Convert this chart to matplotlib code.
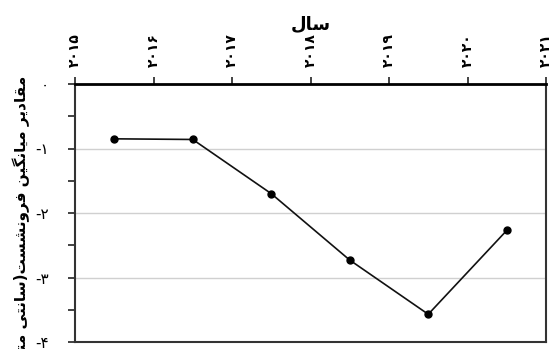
import matplotlib
matplotlib.use("Agg")
import matplotlib.pyplot as plt
from matplotlib.ticker import MultipleLocator

# ---- data ----
years = [2015.5, 2016.5, 2017.5, 2018.5, 2019.5, 2020.5]
subsidence = [-0.85, -0.86, -1.70, -2.73, -3.57, -2.27]
x_ticks = [2015, 2016, 2017, 2018, 2019, 2020, 2021]
y_ticks = [0, -1, -2, -3, -4]
x_title = "سال"
y_title = "مقادیر میانگین فرونشست(سانتی متر"

# ---- minimal Arabic/Persian shaping (presentation forms, visual order) ----
FORMS = {  # isolated, final, initial, medial
    "ا": ("\uFE8D", "\uFE8E", None, None),
    "د": ("\uFEA9", "\uFEAA", None, None),
    "ر": ("\uFEAD", "\uFEAE", None, None),
    "و": ("\uFEED", "\uFEEE", None, None),
    "ت": ("\uFE95", "\uFE96", "\uFE97", "\uFE98"),
    "س": ("\uFEB1", "\uFEB2", "\uFEB3", "\uFEB4"),
    "ش": ("\uFEB5", "\uFEB6", "\uFEB7", "\uFEB8"),
    "ف": ("\uFED1", "\uFED2", "\uFED3", "\uFED4"),
    "ق": ("\uFED5", "\uFED6", "\uFED7", "\uFED8"),
    "ل": ("\uFEDD", "\uFEDE", "\uFEDF", "\uFEE0"),
    "م": ("\uFEE1", "\uFEE2", "\uFEE3", "\uFEE4"),
    "ن": ("\uFEE5", "\uFEE6", "\uFEE7", "\uFEE8"),
    "ی": ("\uFBFC", "\uFBFD", "\uFBFE", "\uFBFF"),
    "گ": ("\uFB92", "\uFB93", "\uFB94", "\uFB95"),
}
MIRROR = {"(": ")", ")": "("}


def shape(text):
    out = []
    n = len(text)
    for i, ch in enumerate(text):
        if ch not in FORMS:
            out.append(MIRROR.get(ch, ch))
            continue
        iso, fin, ini, med = FORMS[ch]
        prev = text[i - 1] if i > 0 else ""
        nxt = text[i + 1] if i < n - 1 else ""
        cp = prev in FORMS and FORMS[prev][2] is not None
        cn = ini is not None and nxt in FORMS
        if cp and cn:
            out.append(med)
        elif cp:
            out.append(fin)
        elif cn:
            out.append(ini)
        else:
            out.append(iso)
    return "".join(reversed(out))


PERSIAN_DIGITS = str.maketrans("0123456789", "۰۱۲۳۴۵۶۷۸۹")


def fa_num(v):
    return str(int(v)).translate(PERSIAN_DIGITS)


plt.rcParams["font.family"] = ["DejaVu Sans"]

fig = plt.figure(figsize=(5.5, 3.49), dpi=100)
ax = fig.add_axes([75 / 550, 1 - 342 / 349, (546 - 75) / 550, (342 - 84) / 349])

ax.plot(years, subsidence, color="#111111", lw=1.2, marker="o", ms=5,
        markerfacecolor="black", markeredgecolor="black", zorder=3)

ax.set_xlim(2015, 2021)
ax.set_ylim(-4, 0)

ax.xaxis.tick_top()
ax.xaxis.set_label_position("top")
ax.set_xticks(x_ticks)
ax.set_xticklabels([fa_num(v) for v in x_ticks], rotation=90,
                   fontsize=10, fontweight="bold")
ax.set_yticks(y_ticks)
ax.set_yticklabels([("-" if v < 0 else "") + fa_num(abs(v)) for v in y_ticks],
                   fontsize=11)
ax.yaxis.set_minor_locator(MultipleLocator(0.5))
ax.tick_params(axis="x", which="both", direction="out", length=5, width=1.2,
               color="#222222", pad=7)
ax.tick_params(axis="y", which="both", direction="out", length=5, width=1.2,
               color="#222222", pad=14)

ax.grid(axis="y", which="major", color="#d0d0d0", lw=1)
ax.set_axisbelow(True)

for side in ("left", "right", "bottom"):
    ax.spines[side].set_color("#333333")
    ax.spines[side].set_linewidth(1.5)
ax.spines["top"].set_color("black")
ax.spines["top"].set_linewidth(2)

ax.set_xlabel(shape(x_title), fontsize=13, fontweight="bold", labelpad=3)

fig.text(22 / 550, 1 - 76 / 349, shape(y_title), rotation=90, va="top",
         ha="center", fontsize=11, fontweight="bold")

fig.savefig("out.png", dpi=100)
